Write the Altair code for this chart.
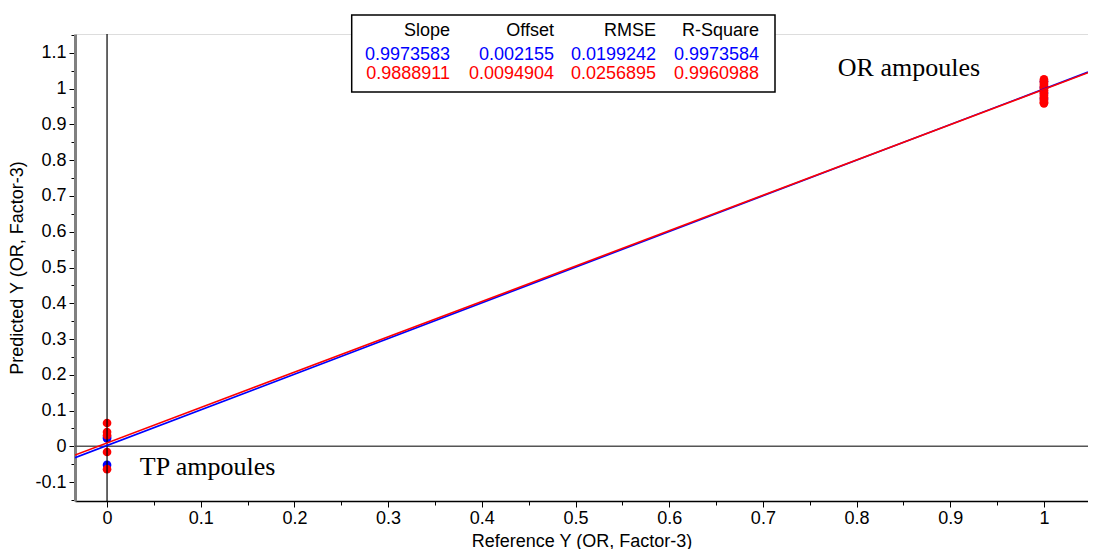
import altair as alt
import pandas as pd

# ---------------- data ----------------
x0_red = [0.065, 0.040, 0.031, -0.016, -0.064]
x0_blue = [0.026, 0.022, -0.052]
x1_red = [1.026, 1.021, 1.016, 1.011, 1.006, 1.001, 0.996, 0.991, 0.986,
          0.981, 0.976, 0.971, 0.966, 0.962, 0.959]
x1_blue = [1.020, 1.004, 0.988, 0.972]

series = ["blue", "red"]
slopes = [0.9973583, 0.9888911]
offsets = [0.002155, 0.0094904]
stat_headers = ["Slope", "Offset", "RMSE", "R-Square"]
stat_blue = ["0.9973583", "0.002155", "0.0199242", "0.9973584"]
stat_red = ["0.9888911", "0.0094904", "0.0256895", "0.9960988"]

x_domain = [-0.0342, 1.047]
y_domain = [-0.153, 1.153]
x_ticks = [0, 0.05, 0.1, 0.15, 0.2, 0.25, 0.3, 0.35, 0.4, 0.45, 0.5, 0.55,
           0.6, 0.65, 0.7, 0.75, 0.8, 0.85, 0.9, 0.95, 1, 1.05]
y_ticks = [-0.15, -0.1, -0.05, 0, 0.05, 0.1, 0.15, 0.2, 0.25, 0.3, 0.35, 0.4,
           0.45, 0.5, 0.55, 0.6, 0.65, 0.7, 0.75, 0.8, 0.85, 0.9, 0.95, 1,
           1.05, 1.1, 1.15]

W, H = 1013, 467

# ---------------- tables ----------------
pts = []
for v in x0_blue:
    pts.append({"x": 0, "y": v, "s": "blue"})
for v in x1_blue:
    pts.append({"x": 1, "y": v, "s": "blue"})
for v in x0_red:
    pts.append({"x": 0, "y": v, "s": "red"})
for v in x1_red:
    pts.append({"x": 1, "y": v, "s": "red"})
pts = pd.DataFrame(pts)

lines = []
for s, m, b in zip(series, slopes, offsets):
    for xv in x_domain:
        lines.append({"x": xv, "y": m * xv + b, "s": s})
lines = pd.DataFrame(lines)

COL = {"blue": "#0000ff", "red": "#ff0000"}
FONT = "Liberation Sans"

minor_test = "abs(datum.value*20 - round(datum.value*10)*2) > 0.001"
label_expr = ("abs(datum.value*10 - round(datum.value*10)) > 0.001 ? '' : "
              "replace(format(datum.value, '.1~f'), '\u2212', '-')")

xscale = alt.Scale(domain=x_domain, nice=False, zero=False)
yscale = alt.Scale(domain=y_domain, nice=False, zero=False)

xaxis = alt.Axis(values=x_ticks, labelExpr=label_expr, grid=False,
                 title="Reference Y (OR, Factor-3)",
                 tickSize={"condition": {"test": minor_test, "value": 4}, "value": 6},
                 tickColor="black", domainColor="black", domainWidth=1.5,
                 labelFont=FONT, labelFontSize=18, labelColor="black",
                 labelPadding=2, labelFlush=False, labelOverlap=False,
                 titleFont=FONT, titleFontSize=18, titleFontWeight="normal",
                 titleColor="black", titlePadding=5)
yaxis = alt.Axis(values=y_ticks, labelExpr=label_expr, grid=False,
                 title="Predicted Y (OR, Factor-3)",
                 tickSize={"condition": {"test": minor_test, "value": 4}, "value": 6},
                 tickColor="black", domainColor="#808080", domainWidth=3,
                 labelFont=FONT, labelFontSize=18, labelColor="black",
                 labelPadding=3, labelFlush=False, labelOverlap=False,
                 titleFont=FONT, titleFontSize=18, titleFontWeight="normal",
                 titleColor="black", titlePadding=8)

base_x = alt.X("x:Q", scale=xscale, axis=xaxis)
base_y = alt.Y("y:Q", scale=yscale, axis=yaxis)

one = pd.DataFrame({"k": [0]})
zero_y = pd.DataFrame({"y": [0]})
zero_x = pd.DataFrame({"x": [0]})

points = alt.Chart(pts).mark_circle(size=75, opacity=1).encode(
    x=base_x, y=base_y,
    color=alt.Color("s:N", scale=alt.Scale(domain=series,
                                           range=[COL["blue"], COL["red"]]),
                    legend=None),
    order=alt.Order("s:N"))

hline = alt.Chart(zero_y).mark_rule(color="#555555", strokeWidth=1.5).encode(
    y=base_y, x=alt.value(0), x2=alt.value(W))
vline = alt.Chart(zero_x).mark_rule(color="black", strokeWidth=1.2).encode(
    x=base_x, y=alt.value(0), y2=alt.value(H))

line_layers = []
for s in series:
    line_layers.append(
        alt.Chart(lines[lines.s == s]).mark_line(color=COL[s], strokeWidth=1.6,
                                                 clip=True).encode(x=base_x, y=base_y))

annot_df_or = pd.DataFrame({"x": [0.780], "y": [1.058]})
annot_df_tp = pd.DataFrame({"x": [0.035], "y": [-0.058]})
annot = []
annot.append(alt.Chart(annot_df_or).mark_text(text="OR ampoules", font="Liberation Serif",
                                              fontSize=26, align="left", baseline="middle",
                                              color="black").encode(x=base_x, y=base_y))
annot.append(alt.Chart(annot_df_tp).mark_text(text="TP ampoules", font="Liberation Serif",
                                              fontSize=26, align="left", baseline="middle",
                                              color="black").encode(x=base_x, y=base_y))

# statistics table (annotation box)
box = alt.Chart(one).mark_rect(fill="white", stroke="black", strokeWidth=1.5).encode(
    x=alt.value(276.7), x2=alt.value(700), y=alt.value(-19), y2=alt.value(58))
annot.append(box)
col_right = [375, 479, 581, 684]
row_y = [-3.3, 21, 40.3]
rows = [(stat_headers, "black"), (stat_blue, COL["blue"]), (stat_red, COL["red"])]
for (vals, colr), ry in zip(rows, row_y):
    for txt, cx in zip(vals, col_right):
        annot.append(alt.Chart(one).mark_text(text=txt, font=FONT, fontSize=18,
                                              align="right", baseline="middle",
                                              color=colr).encode(
            x=alt.value(cx), y=alt.value(ry)))

chart = alt.layer(points, hline, vline, *line_layers, *annot).properties(
    width=W, height=H,
    autosize=alt.AutoSizeParams(type="none"),
    padding={"left": 67, "top": 26, "right": 0, "bottom": 48},
).configure_view(stroke=None).configure(background="white")

chart.save("out.html", embed_options={"renderer": "svg", "actions": False})
